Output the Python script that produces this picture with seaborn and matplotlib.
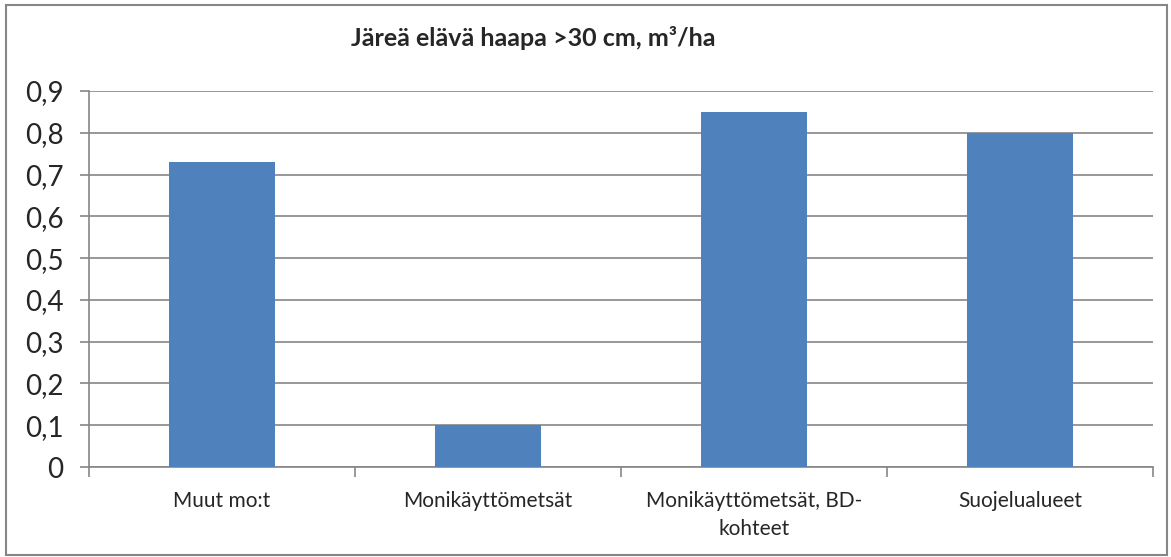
import matplotlib
matplotlib.use("Agg")
import matplotlib.pyplot as plt
import seaborn as sns
import pandas as pd
from matplotlib.ticker import FuncFormatter, FixedLocator
from matplotlib.patches import Rectangle

categories = ["Muut mo:t", "Monikäyttömetsät", "Monikäyttömetsät, BD-\nkohteet", "Suojelualueet"]
values = [0.73, 0.10, 0.85, 0.80]
yticks = [0, 0.1, 0.2, 0.3, 0.4, 0.5, 0.6, 0.7, 0.8, 0.9]

sns.set_theme(style="white")
plt.rcParams['font.family'] = ['Lato', 'DejaVu Sans']

df = pd.DataFrame({"cat": categories, "val": values})
fig = plt.figure(figsize=(11.71, 5.57), dpi=100)
ax = fig.add_axes([89/1171, 1-467/557, (1153-89)/1171, (467-91)/557])

sns.barplot(data=df, x="cat", y="val", color="#4F81BD", width=0.4, saturation=1, ax=ax,
            zorder=3, linewidth=0)

ax.set_xlim(-0.5, len(categories)-0.5)
ax.set_ylim(0, 0.9)
ax.set_yticks(yticks)
ax.yaxis.set_major_formatter(FuncFormatter(lambda v, p: ("%g" % round(v, 1)).replace(".", ",")))
ax.grid(axis="y", color="#868686", linewidth=1.2, zorder=0)
ax.set_axisbelow(True)
for s in ["top", "right"]:
    ax.spines[s].set_visible(False)
for s in ["left", "bottom"]:
    ax.spines[s].set_color("#868686")
    ax.spines[s].set_linewidth(1.2)
ax.tick_params(axis="y", which="major", left=True, length=6.5, width=1.2, color="#868686", labelsize=20, pad=12)
ax.tick_params(axis="x", which="major", bottom=False, length=0, labelsize=15, pad=17)
for lab in ax.get_xticklabels():
    lab.set_linespacing(1.5)
ax.xaxis.set_minor_locator(FixedLocator([i - 0.5 for i in range(len(categories)+1)]))
ax.tick_params(axis="x", which="minor", bottom=True, length=7, width=1.2, color="#868686")
ax.set_xlabel("")
ax.set_ylabel("")

fig.text(533/1171, 1-38/557, "Järeä elävä haapa >30 cm, m³/ha", ha="center", va="center",
         fontsize=18, fontweight="bold")
fig.patches.append(Rectangle((6/1171, 2/557), 1161/1171, 550/557, transform=fig.transFigure,
                             fill=False, edgecolor="#868686", linewidth=1.5))
fig.savefig("out.png", dpi=100)
